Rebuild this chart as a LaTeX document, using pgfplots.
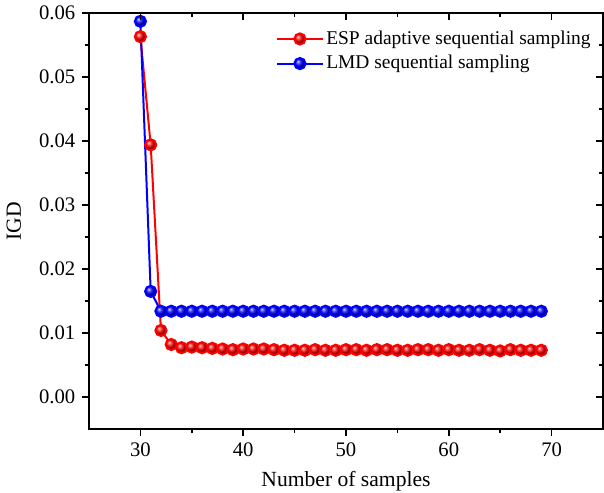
\documentclass[border=0pt]{standalone}
\usepackage{pgfplots}
\pgfplotsset{compat=1.18}
\usepackage{fontspec}
\setmainfont{Liberation Serif}
\newcommand{\cf}{\fontsize{15.5}{18}\selectfont}
\newcommand{\lf}{\fontsize{16.2}{19}\selectfont}
\newcommand{\gf}{\fontsize{14.6}{17}\selectfont}
\begin{document}
\cf
\begin{tikzpicture}[x=1pt,y=1pt]
\useasboundingbox (-66.75,-48) rectangle (386.25,321.75);
\pgfplotsset{
 common/.style={scale only axis, width=385.5pt, height=312pt,
  xmin=25, xmax=75, ymin=-0.005, ymax=0.06,
  xtick={30,40,50,60,70}, ytick={0,0.01,0.02,0.03,0.04,0.05,0.06},
  minor x tick num=1, minor y tick num=1,
  axis line style={line width=1.1pt},
  major tick length=5pt, minor tick length=3pt,
  every tick/.style={black, line width=1.1pt},
  scaled y ticks=false,
  /pgf/number format/assume math mode=true,
  tick label style={font=\cf},
  label style={font=\lf},
 }
}
\begin{axis}[common,
  xtick pos=left, ytick pos=left, tick align=outside,
  yticklabel style={/pgf/number format/.cd, fixed, fixed zerofill, precision=2},
  xlabel={Number of samples}, ylabel={IGD},
  ylabel style={yshift=3pt},
  legend style={draw=none, fill=none, at={(0.356,0.971)}, anchor=north west, font=\gf, row sep=2pt},
  legend cell align=left,
  legend image code/.code={\draw[mark repeat=2,mark phase=2] plot coordinates {(0pt,0pt) (17pt,0pt) (34pt,0pt)};},
]
\addplot[red, line width=1.5pt, mark=ball, mark size=4.2pt, mark options={ball color=red}] coordinates {
(30,0.0563) (31,0.0394) (32,0.0104) (33,0.0082) (34,0.0077) (35,0.0078) (36,0.0077) (37,0.0076) (38,0.0075) (39,0.0074)
(40,0.0075) (41,0.0075) (42,0.0075) (43,0.0074) (44,0.0073) (45,0.0073) (46,0.0073) (47,0.0074) (48,0.0073) (49,0.0073)
(50,0.0074) (51,0.0074) (52,0.0073) (53,0.0074) (54,0.0074) (55,0.0073) (56,0.0073) (57,0.0074) (58,0.0074) (59,0.0073)
(60,0.0074) (61,0.0073) (62,0.0073) (63,0.0074) (64,0.0073) (65,0.0072) (66,0.0074) (67,0.0073) (68,0.0073) (69,0.0073)
};
\addlegendentry{ESP adaptive sequential sampling}
\addplot[blue, line width=1.5pt, mark=ball, mark size=4.2pt, mark options={ball color=blue}] coordinates {
(30,0.0587) (31,0.0165) (32,0.0134) (33,0.0134) (34,0.0134) (35,0.0134) (36,0.0134) (37,0.0134) (38,0.0134) (39,0.0134)
(40,0.0134) (41,0.0134) (42,0.0134) (43,0.0134) (44,0.0134) (45,0.0134) (46,0.0134) (47,0.0134) (48,0.0134) (49,0.0134)
(50,0.0134) (51,0.0134) (52,0.0134) (53,0.0134) (54,0.0134) (55,0.0134) (56,0.0134) (57,0.0134) (58,0.0134) (59,0.0134)
(60,0.0134) (61,0.0134) (62,0.0134) (63,0.0134) (64,0.0134) (65,0.0134) (66,0.0134) (67,0.0134) (68,0.0134) (69,0.0134)
};
\addlegendentry{LMD sequential sampling}
\end{axis}
\begin{axis}[common,
  xtick pos=right, ytick pos=right, tick align=inside,
  xticklabels={}, yticklabels={},
]
\end{axis}
\end{tikzpicture}
\end{document}
